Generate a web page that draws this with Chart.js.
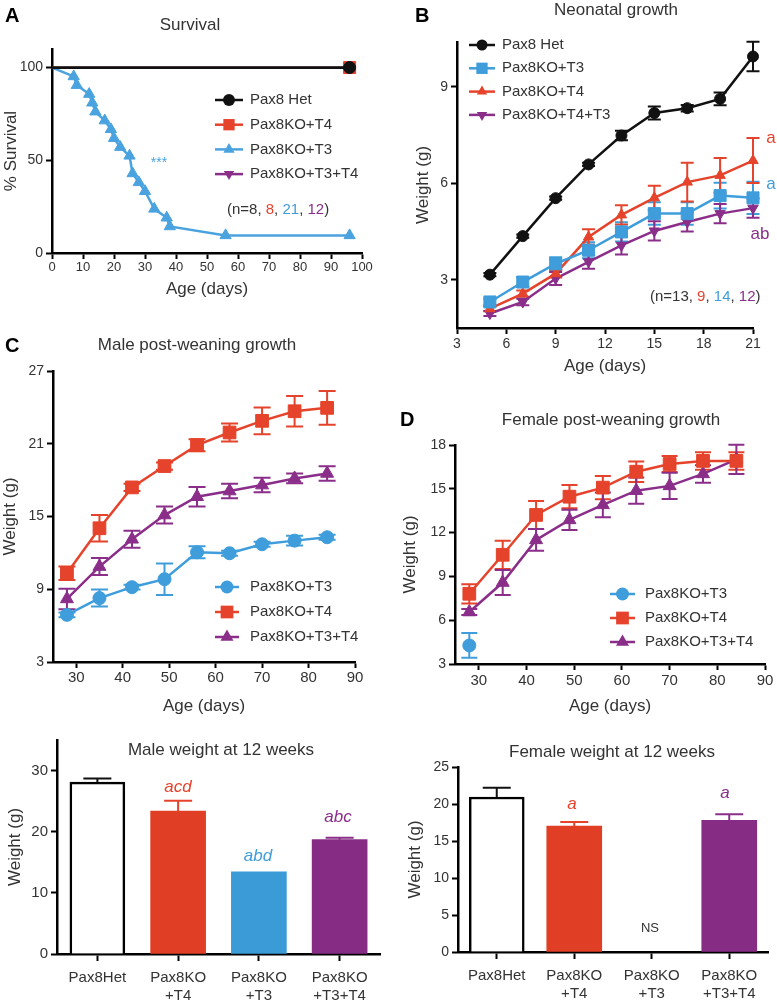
<!DOCTYPE html>
<html lang="en">
<head>
<meta charset="UTF-8">
<title>Pax8 survival and growth</title>
<style>
  body { margin: 0; background: #fff; font-family: "Liberation Sans", Arial, sans-serif; }
  #page { position: relative; width: 777px; height: 1007px; overflow: hidden; }
  canvas { position: absolute; }
  .letter { position: absolute; font-weight: bold; font-size: 20px; line-height: 20px; color: #000; }
  .title { position: absolute; font-size: 17px; line-height: 20px; color: #333; transform: translateX(-50%); white-space: nowrap; }
</style>
</head>
<body>
<div id="page">
  <canvas id="cA" width="380" height="300" style="left:0;top:0"></canvas>
  <canvas id="cB" width="387" height="380" style="left:390px;top:0"></canvas>
  <canvas id="cC" width="380" height="390" style="left:0;top:330px"></canvas>
  <canvas id="cD" width="387" height="320" style="left:390px;top:400px"></canvas>
  <canvas id="cE" width="390" height="282" style="left:0;top:725px"></canvas>
  <canvas id="cF" width="387" height="282" style="left:390px;top:725px"></canvas>

  <div class="letter" style="left:5px;top:5px">A</div>
  <div class="letter" style="left:415px;top:5px">B</div>
  <div class="letter" style="left:5px;top:335px">C</div>
  <div class="letter" style="left:400px;top:409px">D</div>

  <div class="title" style="left:190px;top:15px">Survival</div>
  <div class="title" style="left:616px;top:0">Neonatal growth</div>
  <div class="title" style="left:197px;top:335px">Male post-weaning growth</div>
  <div class="title" style="left:611px;top:410px">Female post-weaning growth</div>
  <div class="title" style="left:221px;top:740px">Male weight at 12 weeks</div>
  <div class="title" style="left:612px;top:742px">Female weight at 12 weeks</div>
</div>

<script src="https://cdn.jsdelivr.net/npm/chart.js"></script>
<script>
// ---- data ----
// A: survival (%)
const survDays = [0, 7, 8, 12, 13, 14, 17, 19, 20, 22, 25, 26, 28, 30, 33, 37, 38, 56, 96];
const survT3 = [100, 95.2, 90.5, 85.7, 81, 76.2, 71.4, 66.7, 61.9, 57.1, 52.4, 42.9, 38.1, 33.3, 23.8, 19, 14.3, 9.5, 9.5];
const survFullDays = [0, 96];
const survFull = [100, 100];
const survXTicks = [0, 10, 20, 30, 40, 50, 60, 70, 80, 90, 100];
const survYTicks = [0, 50, 100];

// B: neonatal growth (g)
const neoDays = [5, 7, 9, 11, 13, 15, 17, 19, 21];
const neoHet = [3.16, 4.36, 5.54, 6.59, 7.49, 8.19, 8.34, 8.63, 9.95];
const neoHetErr = [0.05, 0.05, 0.05, 0.05, 0.15, 0.2, 0.1, 0.2, 0.46];
const neoT3 = [2.31, 2.93, 3.5, 3.92, 4.49, 5.06, 5.06, 5.62, 5.55];
const neoT3Err = [0.1, 0.15, 0.2, 0.25, 0.3, 0.35, 0.35, 0.4, 0.5];
const neoT4 = [2.1, 2.57, 3.19, 4.33, 5.02, 5.55, 6.04, 6.25, 6.71];
const neoT4Err = [0.08, 0.1, 0.12, 0.24, 0.3, 0.38, 0.6, 0.54, 0.7];
const neoT4T3 = [1.95, 2.31, 3.04, 3.56, 4.07, 4.52, 4.8, 5.06, 5.23];
const neoT4T3Err = [0.08, 0.1, 0.2, 0.22, 0.28, 0.3, 0.3, 0.3, 0.3];
const neoXTicks = [3, 6, 9, 12, 15, 18, 21];
const neoYTicks = [3, 6, 9];

// C: male post-weaning growth (g)
const postDays = [28, 35, 42, 49, 56, 63, 70, 77, 84];
const maleT3 = [6.89, 8.27, 9.17, 9.83, 12.05, 11.97, 12.71, 13.01, 13.29];
const maleT3Err = [0.2, 0.7, 0.2, 1.3, 0.5, 0.2, 0.2, 0.4, 0.2];
const maleT4 = [10.32, 14.03, 17.4, 19.16, 20.88, 21.93, 22.89, 23.68, 23.96];
const maleT4Err = [0.55, 1.1, 0.3, 0.3, 0.5, 0.75, 1.1, 1.25, 1.4];
const maleT3T4 = [8.2, 10.87, 13.12, 15.12, 16.63, 17.1, 17.59, 18.14, 18.55];
const maleT3T4Err = [0.85, 0.7, 0.7, 0.7, 0.8, 0.6, 0.6, 0.4, 0.6];
const maleYTicks = [3, 9, 15, 21, 27];

// D: female post-weaning growth (g)
const femT3Days = [28];
const femT3 = [4.27];
const femT3Err = [0.85];
const femT4 = [7.81, 10.48, 13.21, 14.46, 15.08, 16.17, 16.7, 16.91, 16.91];
const femT4Err = [0.66, 0.97, 0.96, 0.8, 0.8, 0.7, 0.55, 0.6, 0.6];
const femT3T4 = [6.56, 8.58, 11.5, 12.87, 13.9, 14.87, 15.2, 16.02, 17.02];
const femT3T4Err = [0.2, 0.85, 0.75, 0.7, 0.85, 0.9, 0.9, 0.6, 1.0];
const femYTicks = [3, 6, 9, 12, 15, 18];
const postXTicks = [30, 40, 50, 60, 70, 80, 90];

// E/F: weight at 12 weeks (g)
const groups = [['Pax8Het'], ['Pax8KO', '+T4'], ['Pax8KO', '+T3'], ['Pax8KO', '+T3+T4']];
const maleWk12 = [28.1, 23.38, 13.43, 18.7];
const maleWk12Err = [0.6, 1.7, 0, 0.3];
const femWk12 = [20.95, 17.03, null, 17.8];
const femWk12Err = [1.25, 0.55, null, 0.8];
const maleWkTicks = [0, 10, 20, 30];
const femWkTicks = [0, 5, 10, 15, 20, 25];

// ---- styling ----
const FONT = '"Liberation Sans", Arial, sans-serif';
const TXT = '#333';
const BLACK = '#111';
const RED = '#E5432B';
const BLUE = '#3E9DDA';
const LIGHTBLUE = '#4AA3DF';
const PURPLE = '#8A2E8A';

Chart.defaults.font.family = FONT;
Chart.defaults.color = TXT;
Chart.defaults.animation = false;

function drawMarker(ctx, style, x, y, r, color) {
    ctx.fillStyle = color;
    ctx.beginPath();
    if (style === 'circle') {
        ctx.arc(x, y, r, 0, Math.PI * 2);
    } else if (style === 'rect') {
        const s = r * Math.SQRT1_2;
        ctx.rect(x - s, y - s, 2 * s, 2 * s);
    } else {
        const d = style === 'triangleDown' ? -1 : 1;
        ctx.moveTo(x, y - d * r);
        ctx.lineTo(x + r * 0.866, y + d * r * 0.5);
        ctx.lineTo(x - r * 0.866, y + d * r * 0.5);
        ctx.closePath();
    }
    ctx.fill();
}

// error bars, drawn from each dataset's errors array through the y scale
const errorBars = {
    id: 'errorBars',
    beforeDatasetsDraw(chart) { drawErrors(chart, false); },
    afterDatasetsDraw(chart) { drawErrors(chart, true); }
};
function drawErrors(chart, after) {
    const ctx = chart.ctx;
    chart.data.datasets.forEach((ds, i) => {
        if (!ds.errors || !!ds.errAfter !== after) return;
        const meta = chart.getDatasetMeta(i);
        const yScale = chart.scales[meta.yAxisID];
        meta.data.forEach((el, j) => {
            const e = ds.errors[j];
            const raw = ds.data[j];
            const v = raw && typeof raw === 'object' ? raw.y : raw;
            if (!e || v == null) return;
            const x = el.x;
            const top = yScale.getPixelForValue(v + e);
            const bot = ds.errUpOnly ? el.y : yScale.getPixelForValue(v - e);
            const half = ds.errCap / 2;
            ctx.save();
            ctx.strokeStyle = ds.errColors ? ds.errColors[j] : ds.borderColor;
            ctx.lineWidth = 2;
            ctx.beginPath();
            ctx.moveTo(x, top); ctx.lineTo(x, bot);
            ctx.moveTo(x - half, top); ctx.lineTo(x + half, top);
            if (!ds.errUpOnly) { ctx.moveTo(x - half, bot); ctx.lineTo(x + half, bot); }
            ctx.stroke();
            ctx.restore();
        });
    });
}

// legend with a line through the marker
function lineLegend(cfg) {
    return {
        id: 'lineLegend',
        afterDraw(chart) {
            const ctx = chart.ctx;
            cfg.items.forEach((it, k) => {
                const y = cfg.y + k * cfg.rowH;
                ctx.save();
                ctx.strokeStyle = it.color;
                ctx.lineWidth = 2.5;
                ctx.beginPath();
                ctx.moveTo(cfg.x, y); ctx.lineTo(cfg.x + cfg.len, y);
                ctx.stroke();
                drawMarker(ctx, it.style, cfg.x + cfg.len / 2, y, it.r, it.color);
                ctx.fillStyle = TXT;
                ctx.font = cfg.font + ' ' + FONT;
                ctx.textBaseline = 'middle';
                ctx.fillText(it.label, cfg.textX, y);
                ctx.restore();
            });
        }
    };
}

// text notes, possibly in several colours
function notes(items) {
    return {
        id: 'notes',
        afterDraw(chart) {
            const ctx = chart.ctx;
            items.forEach(n => {
                ctx.save();
                ctx.font = n.font + ' ' + FONT;
                ctx.textBaseline = 'middle';
                ctx.textAlign = 'left';
                const total = n.segs.reduce((w, s) => w + ctx.measureText(s[0]).width, 0);
                let x = n.align === 'center' ? n.x - total / 2 : n.x;
                n.segs.forEach(([t, c]) => {
                    ctx.fillStyle = c;
                    ctx.fillText(t, x, n.y);
                    x += ctx.measureText(t).width;
                });
                ctx.restore();
            });
        }
    };
}

function axis(o) {
    const a = {
        type: o.type || 'linear',
        offset: !!o.offset,
        afterFit: (s) => {
            if (o.width) s.width = o.width;
            if (o.height) s.height = o.height;
        },
        border: { display: true, color: '#000', width: 2.5 },
        grid: { drawOnChartArea: false, drawTicks: true, tickLength: o.tickLength || 6, tickWidth: 2, tickColor: '#000', offset: false },
        ticks: { color: TXT, font: { size: o.fontSize }, padding: o.pad == null ? 3 : o.pad, autoSkip: false, maxRotation: 0 },
        title: { display: !!o.title, text: o.title, color: TXT, font: { size: 17 }, padding: o.titlePad || 0 }
    };
    if (o.min != null) a.min = o.min;
    if (o.max != null) a.max = o.max;
    if (o.ticks) a.afterBuildTicks = (s) => { s.ticks = o.ticks.map(v => ({ value: v })); };
    return a;
}

function series(label, xs, ys, errs, color, style, r, extra) {
    return Object.assign({
        label: label,
        data: xs.map((x, i) => ({ x: x, y: ys[i] })),
        errors: errs,
        borderColor: color,
        backgroundColor: color,
        borderWidth: 2.5,
        pointStyle: style === 'triangleDown' ? 'triangle' : style,
        pointRotation: style === 'triangleDown' ? 180 : 0,
        pointRadius: r,
        pointBackgroundColor: color,
        pointBorderColor: color,
        pointBorderWidth: 1,
        errCap: 13,
        clip: false,
        tension: 0
    }, extra || {});
}

function lineChart(id, datasets, pad, xAx, yAx, plugins) {
    return new Chart(document.getElementById(id), {
        type: 'line',
        data: { datasets: datasets },
        options: {
            responsive: false,
            layout: { padding: pad },
            plugins: { legend: { display: false }, tooltip: { enabled: false } },
            scales: { x: xAx, y: yAx }
        },
        plugins: [errorBars].concat(plugins)
    });
}

// ---- A: survival ----
lineChart('cA', [
    series('Pax8 Het', survFullDays, survFull, null, BLACK, 'circle', [0, 6], { borderWidth: 2.8 }),
    series('Pax8KO+T4', survFullDays, survFull, null, RED, 'rect', [0, 8.5], { borderWidth: 1.5 }),
    series('Pax8KO+T3', survDays, survT3, null, LIGHTBLUE, 'triangle', survDays.map((d, i) => i === 0 ? 0 : 6.5)),
    series('Pax8KO+T3+T4', survFullDays, survFull, null, PURPLE, 'triangleDown', [0, 6], { borderWidth: 1.5 })
], { left: 0, top: 49, right: 18, bottom: 0 },
    axis({ min: 0, max: 100, ticks: survXTicks, fontSize: 13, pad: 1, height: 47, title: 'Age (days)' }),
    axis({ min: 0, max: 110, ticks: survYTicks, fontSize: 14, width: 52, title: '% Survival', titlePad: 1 }),
    [lineLegend({ x: 215, y: 100, rowH: 24.7, len: 28, textX: 250, font: '15px', items: [
        { label: 'Pax8 Het', color: BLACK, style: 'circle', r: 6 },
        { label: 'Pax8KO+T4', color: RED, style: 'rect', r: 8 },
        { label: 'Pax8KO+T3', color: LIGHTBLUE, style: 'triangle', r: 6.5 },
        { label: 'Pax8KO+T3+T4', color: PURPLE, style: 'triangleDown', r: 6 }
    ] }),
    notes([
        { x: 159, y: 163, font: '14px', align: 'center', segs: [['***', LIGHTBLUE]] },
        { x: 227, y: 210, font: '15px', segs: [['(n=8, ', TXT], ['8', RED], [', ', TXT], ['21', BLUE], [', ', TXT], ['12', PURPLE], [')', TXT]] }
    ])]);

// ---- B: neonatal growth ----
lineChart('cB', [
    series('Pax8 Het', neoDays, neoHet, neoHetErr, BLACK, 'circle', 5.5),
    series('Pax8KO+T3', neoDays, neoT3, neoT3Err, BLUE, 'rect', 8.5),
    series('Pax8KO+T4', neoDays, neoT4, neoT4Err, RED, 'triangle', 6),
    series('Pax8KO+T4+T3', neoDays, neoT4T3, neoT4T3Err, PURPLE, 'triangleDown', 6)
], { left: 0, top: 42, right: 24, bottom: 0 },
    axis({ min: 3, max: 21, ticks: neoXTicks, fontSize: 14, pad: 2, height: 52, title: 'Age (days)', titlePad: 3 }),
    axis({ min: 1.5, max: 10.4, ticks: neoYTicks, fontSize: 14, width: 67, title: 'Weight (g)', titlePad: 23 }),
    [lineLegend({ x: 79, y: 45, rowH: 23.3, len: 26, textX: 112, font: '15px', items: [
        { label: 'Pax8 Het', color: BLACK, style: 'circle', r: 5.5 },
        { label: 'Pax8KO+T3', color: BLUE, style: 'rect', r: 8 },
        { label: 'Pax8KO+T4', color: RED, style: 'triangle', r: 6 },
        { label: 'Pax8KO+T4+T3', color: PURPLE, style: 'triangleDown', r: 6 }
    ] }),
    notes([
        { x: 381, y: 138, font: '17px', align: 'center', segs: [['a', RED]] },
        { x: 381, y: 184, font: '17px', align: 'center', segs: [['a', BLUE]] },
        { x: 370, y: 234, font: '17px', align: 'center', segs: [['ab', PURPLE]] },
        { x: 260, y: 297, font: '15px', segs: [['(n=13, ', TXT], ['9', RED], [', ', TXT], ['14', BLUE], [', ', TXT], ['12', PURPLE], [')', TXT]] }
    ])]);

// ---- C: male post-weaning growth ----
lineChart('cC', [
    series('Pax8KO+T3', postDays, maleT3, maleT3Err, BLUE, 'circle', 6.5, { errCap: 17 }),
    series('Pax8KO+T4', postDays, maleT4, maleT4Err, RED, 'rect', 9, { errCap: 17 }),
    series('Pax8KO+T3+T4', postDays, maleT3T4, maleT3T4Err, PURPLE, 'triangle', 7.5, { errCap: 17 })
], { left: 0, top: 41, right: 25, bottom: 0 },
    axis({ min: 25, max: 90, ticks: postXTicks, fontSize: 15, pad: 1, height: 58, title: 'Age (days)', titlePad: 3 }),
    axis({ min: 3, max: 27, ticks: maleYTicks, fontSize: 14, width: 53, title: 'Weight (g)', titlePad: 0 }),
    [lineLegend({ x: 215, y: 257, rowH: 25, len: 24, textX: 250, font: '15px', items: [
        { label: 'Pax8KO+T3', color: BLUE, style: 'circle', r: 6.5 },
        { label: 'Pax8KO+T4', color: RED, style: 'rect', r: 9 },
        { label: 'Pax8KO+T3+T4', color: PURPLE, style: 'triangle', r: 7.5 }
    ] })]);

// ---- D: female post-weaning growth ----
lineChart('cD', [
    series('Pax8KO+T3', femT3Days, femT3, femT3Err, BLUE, 'circle', 6.5, { errCap: 16, showLine: false }),
    series('Pax8KO+T4', postDays, femT4, femT4Err, RED, 'rect', 9, { errCap: 16 }),
    series('Pax8KO+T3+T4', postDays, femT3T4, femT3T4Err, PURPLE, 'triangle', 7.5, { errCap: 16 })
], { left: 0, top: 45, right: 12, bottom: 0 },
    axis({ min: 25, max: 90, ticks: postXTicks, fontSize: 15, pad: 2, height: 56, title: 'Age (days)', titlePad: 3 }),
    axis({ min: 3, max: 18, ticks: femYTicks, fontSize: 14, width: 65, title: 'Weight (g)', titlePad: 10 }),
    [lineLegend({ x: 220, y: 194, rowH: 24, len: 25, textX: 255, font: '15px', items: [
        { label: 'Pax8KO+T3', color: BLUE, style: 'circle', r: 6.5 },
        { label: 'Pax8KO+T4', color: RED, style: 'rect', r: 9 },
        { label: 'Pax8KO+T3+T4', color: PURPLE, style: 'triangle', r: 7.5 }
    ] })]);

// ---- E/F: bars at 12 weeks ----
function barChart(id, values, errs, pad, yAx, noteItems) {
    return new Chart(document.getElementById(id), {
        type: 'bar',
        data: {
            labels: groups,
            datasets: [{
                data: values,
                errors: errs,
                errUpOnly: true,
                errAfter: true,
                errCap: 28,
                errColors: [BLACK, RED, BLUE, PURPLE],
                backgroundColor: ['#ffffff', '#E03F26', '#3A9BD6', '#872C85'],
                borderColor: ['#000000', '#E03F26', '#3A9BD6', '#872C85'],
                borderWidth: [2.5, 0, 0, 0],
                barThickness: 55
            }]
        },
        options: {
            responsive: false,
            layout: { padding: pad },
            plugins: { legend: { display: false }, tooltip: { enabled: false } },
            scales: {
                x: axis({ type: 'category', offset: true, fontSize: 15, pad: 8, tickLength: 7, height: pad.xh }),
                y: yAx
            }
        },
        plugins: [errorBars, notes(noteItems)]
    });
}

barChart('cE', maleWk12, maleWk12Err, { left: 0, top: 15, right: 10, bottom: 0, xh: 53 },
    axis({ min: 0, max: 35, ticks: maleWkTicks, fontSize: 15, width: 57, title: 'Weight (g)', titlePad: 5 }),
    [
        { x: 178, y: 62, font: 'italic 17px', align: 'center', segs: [['acd', RED]] },
        { x: 258, y: 131, font: 'italic 17px', align: 'center', segs: [['abd', BLUE]] },
        { x: 338, y: 92, font: 'italic 17px', align: 'center', segs: [['abc', PURPLE]] }
    ]);

barChart('cF', femWk12, femWk12Err, { left: 0, top: 42, right: 9, bottom: 0, xh: 55 },
    axis({ min: 0, max: 25, ticks: femWkTicks, fontSize: 14, width: 68, title: 'Weight (g)', titlePad: 15 }),
    [
        { x: 182, y: 79, font: 'italic 17px', align: 'center', segs: [['a', RED]] },
        { x: 335, y: 68, font: 'italic 17px', align: 'center', segs: [['a', PURPLE]] },
        { x: 260, y: 203, font: '13px', align: 'center', segs: [['NS', TXT]] }
    ]);
</script>
</body>
</html>
